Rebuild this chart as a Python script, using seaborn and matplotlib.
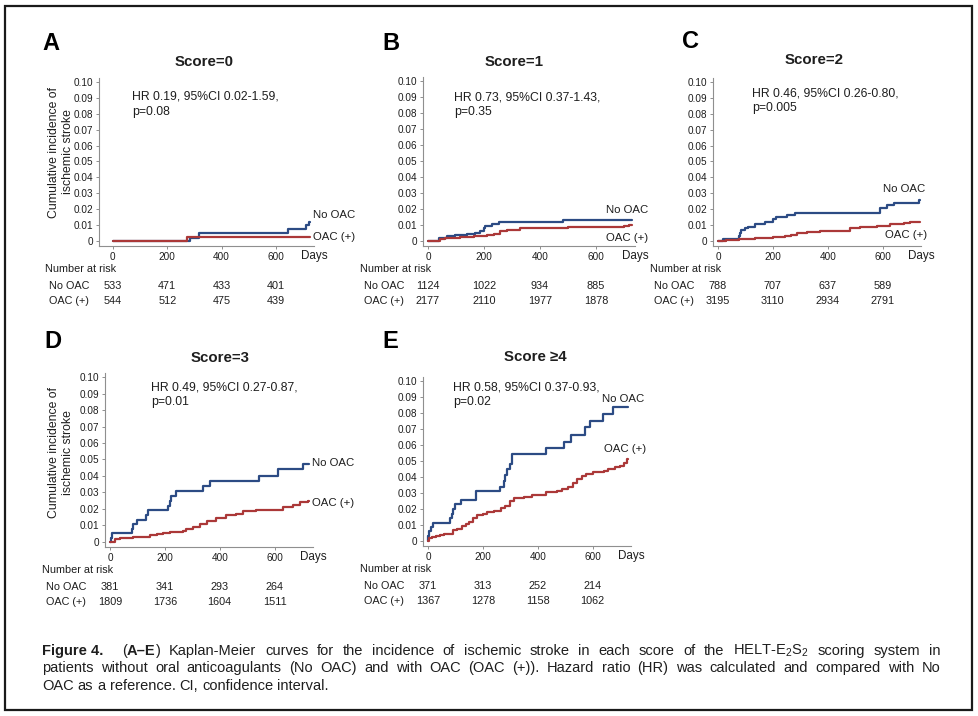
import numpy as np
import pandas as pd
import matplotlib
matplotlib.use("Agg")
import matplotlib.pyplot as plt
from matplotlib.patches import Rectangle
import seaborn as sns

# ---- values (days, cumulative incidence) ----
a_no_t = [0, 282, 318, 644, 712, 721, 726]
a_no_y = [0, 0.002, 0.0048, 0.0073, 0.0098, 0.012, 0.012]
a_oac_t = [0, 272, 726]
a_oac_y = [0, 0.0023, 0.0023]

b_no_t = [0, 38, 68, 98, 139, 168, 187, 199, 205, 229, 252, 400, 484, 729]
b_no_y = [0, 0.002, 0.003, 0.0035, 0.004, 0.005, 0.006, 0.008, 0.0095, 0.0105,
          0.0115, 0.012, 0.0133, 0.0133]
b_oac_t = [0, 44, 62, 115, 163, 211, 235, 258, 282, 330, 342, 502, 699, 717, 729]
b_oac_y = [0, 0.001, 0.0017, 0.0023, 0.003, 0.0035, 0.0045, 0.006, 0.007, 0.0078,
           0.008, 0.0085, 0.009, 0.0098, 0.01]

c_no_t = [0, 18, 76, 80, 85, 98, 110, 134, 171, 201, 213, 250, 280, 589, 616, 640,
          732, 736]
c_no_y = [0, 0.001, 0.003, 0.005, 0.007, 0.008, 0.009, 0.0105, 0.012, 0.0135, 0.015,
          0.016, 0.0175, 0.0205, 0.0225, 0.024, 0.026, 0.026]
c_oac_t = [0, 30, 76, 134, 201, 244, 268, 287, 323, 372, 433, 482, 518, 579, 628,
           677, 701, 738]
c_oac_y = [0, 0.0005, 0.001, 0.002, 0.0025, 0.003, 0.004, 0.005, 0.0055, 0.006,
           0.0065, 0.008, 0.009, 0.0095, 0.0105, 0.0115, 0.012, 0.012]

d_no_t = [0, 3, 6, 79, 85, 97, 133, 139, 212, 218, 224, 242, 339, 364, 545, 612,
          703, 725]
d_no_y = [0, 0.0025, 0.0055, 0.008, 0.0105, 0.0135, 0.0165, 0.0195, 0.022, 0.025,
          0.028, 0.031, 0.034, 0.037, 0.040, 0.044, 0.0475, 0.0475]
d_oac_t = [0, 20, 36, 85, 145, 170, 194, 218, 267, 279, 303, 327, 352, 388, 424,
           461, 485, 533, 582, 630, 667, 691, 721, 725]
d_oac_y = [0, 0.0015, 0.002, 0.003, 0.004, 0.005, 0.0055, 0.006, 0.0065, 0.008,
           0.009, 0.0105, 0.0125, 0.0145, 0.016, 0.017, 0.0185, 0.019, 0.0195,
           0.021, 0.0225, 0.024, 0.0245, 0.0245]

e_no_t = [0, 2, 5, 10, 20, 80, 86, 92, 98, 121, 175, 264, 276, 282, 288, 300, 306,
          431, 496, 520, 574, 589, 639, 675, 729]
e_no_y = [0, 0.003, 0.006, 0.0085, 0.011, 0.014, 0.017, 0.020, 0.023, 0.0255,
          0.0315, 0.034, 0.0375, 0.041, 0.045, 0.048, 0.0545, 0.058, 0.062, 0.0665,
          0.071, 0.075, 0.0795, 0.084, 0.084]
e_oac_t = [0, 3, 15, 30, 45, 60, 75, 90, 105, 125, 140, 150, 165, 180, 200, 215,
           240, 265, 280, 300, 315, 350, 380, 400, 430, 470, 490, 510, 530, 545,
           560, 575, 600, 640, 655, 680, 700, 715, 725, 728]
e_oac_y = [0, 0.002, 0.0025, 0.003, 0.0035, 0.004, 0.0045, 0.0065, 0.0075, 0.009,
           0.0105, 0.012, 0.0145, 0.016, 0.017, 0.018, 0.019, 0.0205, 0.022, 0.025,
           0.027, 0.0275, 0.0285, 0.029, 0.0305, 0.031, 0.0325, 0.034, 0.036,
           0.0385, 0.0405, 0.042, 0.043, 0.0435, 0.045, 0.046, 0.047, 0.049, 0.051,
           0.051]

panels = ["A", "B", "C", "D", "E"]
titles = ["Score=0", "Score=1", "Score=2", "Score=3", "Score \u22654"]
hr_texts = ["HR 0.19, 95%CI 0.02-1.59,\np=0.08",
            "HR 0.73, 95%CI 0.37-1.43,\np=0.35",
            "HR 0.46, 95%CI 0.26-0.80,\np=0.005",
            "HR 0.49, 95%CI 0.27-0.87,\np=0.01",
            "HR 0.58, 95%CI 0.37-0.93,\np=0.02"]
risk_days = [0, 200, 400, 600]
risk_no = [[533, 471, 433, 401], [1124, 1022, 934, 885], [788, 707, 637, 589],
           [381, 341, 293, 264], [371, 313, 252, 214]]
risk_oac = [[544, 512, 475, 439], [2177, 2110, 1977, 1878], [3195, 3110, 2934, 2791],
            [1809, 1736, 1604, 1511], [1367, 1278, 1158, 1062]]
curves = [(a_no_t, a_no_y, a_oac_t, a_oac_y), (b_no_t, b_no_y, b_oac_t, b_oac_y),
          (c_no_t, c_no_y, c_oac_t, c_oac_y), (d_no_t, d_no_y, d_oac_t, d_oac_y),
          (e_no_t, e_no_y, e_oac_t, e_oac_y)]
groups = ["No OAC", "OAC (+)"]

# ---- layout (pixels) ----
W, H = 979, 716
# axes box: left, top, right, bottom, x-min
boxes = [(99, 78, 314, 246, -51), (423, 77, 635, 246, -18), (713, 78, 921, 246, -18),
         (105, 373, 313, 547, -18), (423, 377, 631, 546, -18)]
hr_pos = [(70, 0.086), (93, 0.0853), (124, 0.0884), (149, 0.0891), (91, 0.0916)]
# curve labels: (x, y, ha) for No OAC then OAC (+)
lab_pos = [((736, 0.0164, "left"), (736, 0.0025, "left")),
           ((786, 0.0194, "right"), (786, 0.0019, "right")),
           ((756, 0.0327, "right"), (764, 0.0038, "right")),
           ((738, 0.048, "left"), (738, 0.0236, "left")),
           ((789, 0.089, "right"), (796, 0.0575, "right"))]
title_pos = [(204, 62), (514, 62), (814, 60), (220, 358), (535, 357)]
letter_pos = [(42, 44), (382, 43), (682, 41), (44, 342), (382, 342)]

sns.set_theme(style="white")
plt.rcParams["font.family"] = ["Liberation Sans", "DejaVu Sans"]
plt.rcParams["mathtext.fontset"] = "custom"
plt.rcParams["mathtext.rm"] = "Liberation Sans"

BLUE = "#2c4b84"
RED = "#ab3838"
AXC = "#8f8f8f"
TXT = "#1e1e1e"

fig = plt.figure(figsize=(W / 100, H / 100), dpi=100)
fig.patch.set_facecolor("white")


def fx(px):
    return px / W


def fy(py):
    return 1 - py / H


for i, key in enumerate(panels):
    l, t, r, b, xmin = boxes[i]
    ax = fig.add_axes([fx(l), fy(b), (r - l) / W, (b - t) / H])
    nt, ny, ot, oy = curves[i]
    df = pd.concat([
        pd.DataFrame({"days": nt, "inc": ny, "group": groups[0]}),
        pd.DataFrame({"days": ot, "inc": oy, "group": groups[1]}),
    ])
    sns.lineplot(data=df, x="days", y="inc", hue="group", hue_order=groups,
                 palette=[BLUE, RED], drawstyle="steps-post", estimator=None,
                 sort=False, lw=1.6, legend=False, ax=ax)
    ax.set_xlim(xmin, 740)
    ax.set_ylim(-0.0032, 0.1025)
    for ln in ax.lines:
        ln.set_clip_on(False)
    for s in ["top", "right"]:
        ax.spines[s].set_visible(False)
    for s in ["left", "bottom"]:
        ax.spines[s].set_color(AXC)
        ax.spines[s].set_linewidth(0.8)
    ax.set_xticks(risk_days)
    ax.set_xticklabels([str(d) for d in risk_days])
    yt = np.round(np.arange(0, 0.1001, 0.01), 2)
    ax.set_yticks(yt)
    ax.set_yticklabels(["0"] + [f"{v:.2f}" for v in yt[1:]])
    ax.tick_params(axis="both", bottom=True, left=True, length=2.5, width=0.7,
                   color=AXC, labelsize=7.2, labelcolor=TXT, pad=1.5)
    ax.set_xlabel("")
    ax.set_ylabel("")
    ax.set_facecolor("none")

    ax.annotate("Days", xy=(740, 0), xytext=(0, -15), textcoords="offset pixels",
                ha="center", va="center", fontsize=8.4, color=TXT,
                annotation_clip=False)
    hx, hy = hr_pos[i]
    ax.text(hx, hy, hr_texts[i], fontsize=8.8, color=TXT, ha="left", va="center",
            linespacing=1.3)
    for g, (lx, ly, ha) in zip(groups, lab_pos[i]):
        ax.text(lx, ly, g, fontsize=8.2, color=TXT, ha=ha, va="center", clip_on=False)

    # number-at-risk table
    ax.annotate("Number at risk", xy=(0, 0), xytext=(-68, -28),
                textcoords="offset pixels", ha="left", va="center", fontsize=7.8,
                color=TXT, annotation_clip=False)
    for g, vals, dy in [(groups[0], risk_no[i], -45), (groups[1], risk_oac[i], -60)]:
        ax.annotate(g, xy=(0, 0), xytext=(-64, dy), textcoords="offset pixels",
                    ha="left", va="center", fontsize=7.8, color=TXT,
                    annotation_clip=False)
        for d, n in zip(risk_days, vals):
            ax.annotate(str(n), xy=(d, 0), xytext=(0, dy), textcoords="offset pixels",
                        ha="center", va="center", fontsize=7.8, color=TXT,
                        annotation_clip=False)

    tx, ty = title_pos[i]
    fig.text(fx(tx), fy(ty), titles[i], fontsize=10.8, fontweight="bold",
             ha="center", va="center", color=TXT)
    px, py = letter_pos[i]
    fig.text(fx(px), fy(py), key, fontsize=17, fontweight="bold", ha="left",
             va="center", color="black")

for yc in [152, 453]:
    fig.text(fx(61), fy(yc), "Cumulative incidence of\nischemic stroke", rotation=90,
             fontsize=8.8, ha="center", va="center", linespacing=1.15, color=TXT)

# outer frame
fig.add_artist(Rectangle((fx(5), fy(710)), (972 - 5) / W, (710 - 6) / H, fill=False,
                         lw=1.6, ec="#1a1a1a", transform=fig.transFigure))

# ---- caption, justified like the journal page ----
CAP_FONT = ["Liberation Sans Narrow", "Liberation Sans", "DejaVu Sans"]
cap_lines = [
    [[("Figure 4.", True)], [("(", False), ("A\u2013E", True), (")", False)],
     [("Kaplan-Meier", False)], [("curves", False)], [("for", False)], [("the", False)],
     [("incidence", False)], [("of", False)], [("ischemic", False)], [("stroke", False)],
     [("in", False)], [("each", False)], [("score", False)], [("of", False)],
     [("the", False)], [("HELT-E$_2$S$_2$", False)], [("scoring", False)],
     [("system", False)], [("in", False)]],
    [[(w, False)] for w in ("patients without oral anticoagulants (No OAC) and with OAC "
                            "(OAC (+)). Hazard ratio (HR) was calculated and compared "
                            "with No").split()],
    [[(w, False)] for w in "OAC as a reference. CI, confidence interval.".split()],
]
cap_y = [651, 668, 686]
X0, X1 = 42, 940
renderer = fig.canvas.get_renderer()


def build_line(tokens, y, size):
    out = []
    for tok in tokens:
        parts = []
        for s, bold in tok:
            t = fig.text(0, fy(y), s, fontsize=size, family=CAP_FONT,
                         fontweight="bold" if bold else "normal", ha="left",
                         va="center", color=TXT)
            parts.append((t, t.get_window_extent(renderer).width))
        out.append(parts)
    return out


size = 10.5
test = build_line(cap_lines[0], cap_y[0], size)
natural = sum(w for tok in test for _, w in tok) + 0.28 * size * 1.389 * (len(test) + 2)
for tok in test:
    for t, _ in tok:
        t.remove()
if natural > X1 - X0:
    size = size * (X1 - X0) / natural

for li, (tokens, y) in enumerate(zip(cap_lines, cap_y)):
    arts = build_line(tokens, y, size)
    widths = [sum(w for _, w in tok) for tok in arts]
    space = 0.28 * size * 1.389
    extra = 2.5 * space if li == 0 else 0
    if li < 2:
        gap = (X1 - X0 - sum(widths) - extra) / (len(arts) - 1)
    else:
        gap = space
    x = X0
    for k, tok in enumerate(arts):
        for t, w in tok:
            t.set_x(fx(x))
            x += w
        x += gap + (extra if k == 0 else 0)

fig.savefig("out.png", dpi=100, facecolor="white")
